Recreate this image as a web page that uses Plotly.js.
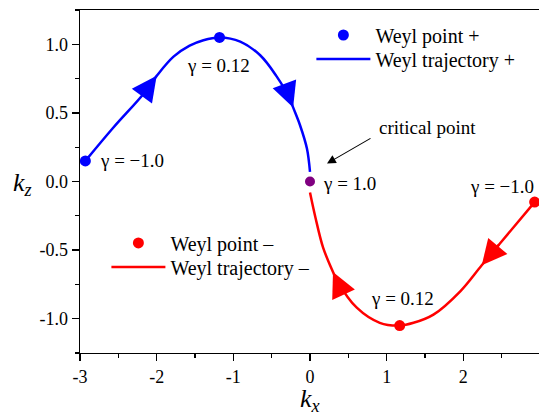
<!DOCTYPE html>
<html><head><meta charset="utf-8">
<script src="https://cdn.plot.ly/plotly-3.0.1.min.js"></script>
<style>html,body{margin:0;padding:0;overflow:hidden;background:#fff}</style>
</head><body><div id="chart" style="width:541px;height:414px"></div>
<script>
// Weyl trajectory + (blue)
const plusTrajKx = [-2.93, -2.57, -2.17, -2.00, -1.78, -1.57, -1.39, -1.18, -0.91, -0.65, -0.44, -0.26, -0.22, -0.13, -0.04, 0.00];
const plusTrajKz = [0.15, 0.39, 0.64, 0.77, 0.91, 0.99, 1.03, 1.05, 1.02, 0.92, 0.77, 0.60, 0.54, 0.41, 0.24, 0.07];
// Weyl trajectory - (red)
const minusTrajKx = [2.93, 2.48, 2.24, 1.96, 1.61, 1.35, 1.17, 0.91, 0.61, 0.35, 0.30, 0.17, 0.07, 0.00];
const minusTrajKz = [-0.15, -0.45, -0.61, -0.80, -0.97, -1.03, -1.05, -1.03, -0.92, -0.72, -0.66, -0.48, -0.26, -0.08];
// Weyl points
const plusPointKx = [-2.93, -1.18];
const plusPointKz = [0.15, 1.05];
const minusPointKx = [2.93, 1.17];
const minusPointKz = [-0.15, -1.05];
const plusPointGamma = ["γ = −1.0", "γ = 0.12"];
const minusPointGamma = ["γ = −1.0", "γ = 0.12"];
// critical point
const critKx = [0.0];
const critKz = [0.0];
const critGamma = ["γ = 1.0"];
// direction arrows: index of arrow tip in the trajectory arrays
const plusArrowIdx = [3, 12];
const minusArrowIdx = [2, 10];
// ticks
const xTickVals = [-3, -2, -1, 0, 1, 2, 3];
const xTickText = ["-3", "-2", "-1", "0", "1", "2", "3"];
const yTickVals = [-1.0, -0.5, 0.0, 0.5, 1.0];
const yTickText = ["-1.0", "-0.5", "0.0", "0.5", "1.0"];
const xTitle = "<i>k</i><sub><i>x</i></sub>";
const yTitle = "<i>k</i><sub><i>z</i></sub>";

const SERIF = '"Liberation Serif", "Times New Roman", serif';
const BLUE = "#0000ff", RED = "#ff0000", PURPLE = "#800080";

const traces = [
  {x: plusTrajKx, y: plusTrajKz, mode: "lines", line: {color: BLUE, width: 2.5, shape: "spline"},
   name: "Weyl trajectory +", legend: "legend2"},
  {x: minusTrajKx, y: minusTrajKz, mode: "lines", line: {color: RED, width: 2.5, shape: "spline"},
   name: "Weyl trajectory –", legend: "legend4"},
  {x: plusPointKx, y: plusPointKz, mode: "markers", marker: {color: BLUE, size: 11},
   name: "Weyl point +", legend: "legend"},
  {x: minusPointKx, y: minusPointKz, mode: "markers", marker: {color: RED, size: 11},
   name: "Weyl point –", legend: "legend3"},
  {x: critKx, y: critKz, mode: "markers", marker: {color: PURPLE, size: 10}, showlegend: false}
];

const annotations = [];
function arrowAnn(xs, ys, i, color) {
  annotations.push({x: xs[i], y: ys[i], ax: xs[i-1], ay: ys[i-1], xref: "x", yref: "y", axref: "x", ayref: "y",
    text: "", showarrow: true, arrowhead: 2, arrowsize: 2.0, arrowwidth: 2.5, arrowcolor: color, standoff: 0, startstandoff: 0});
}
plusArrowIdx.forEach(i => arrowAnn(plusTrajKx, plusTrajKz, i, BLUE));
minusArrowIdx.forEach(i => arrowAnn(minusTrajKx, minusTrajKz, i, RED));

function label(x, y, text, xanchor, xshift, yshift) {
  annotations.push({x: x, y: y, xref: "x", yref: "y", text: text, showarrow: false, xanchor: xanchor, yanchor: "middle",
    xshift: xshift, yshift: yshift, font: {family: SERIF, size: 19, color: "#000"}});
}
label(plusPointKx[0], plusPointKz[0], plusPointGamma[0], "left", 13, 0);
label(plusPointKx[1], plusPointKz[1], plusPointGamma[1], "center", -1, -28);
label(minusPointKx[0], minusPointKz[0], minusPointGamma[0], "right", 1, 16);
label(minusPointKx[1], minusPointKz[1], minusPointGamma[1], "center", 3, 27);
label(critKx[0], critKz[0], critGamma[0], "left", 11, -2);
label(critKx[0], critKz[0], "critical point", "left", 67, 54);
// arrow pointing to the critical point
annotations.push({x: critKx[0], y: critKz[0], xref: "x", yref: "y", text: "", showarrow: true,
  ax: 45, ay: -26, xshift: 17, yshift: 18, arrowhead: 2, arrowsize: 1.6, arrowwidth: 1.1, arrowcolor: "#000", standoff: 0});
// axis titles (k_z horizontal, as in the reference)
annotations.push({x: -0.124, y: 0, xref: "paper", yref: "y", text: yTitle, showarrow: false,
  xanchor: "center", yanchor: "middle", yshift: -2, font: {family: SERIF, size: 26, color: "#000"}});
annotations.push({x: 0.5, y: 0, xref: "paper", yref: "paper", text: xTitle, showarrow: false,
  xanchor: "center", yanchor: "top", yshift: -29, font: {family: SERIF, size: 26, color: "#000"}});

const axisCommon = {showgrid: false, zeroline: false, showline: true, mirror: true, linecolor: "#000", linewidth: 1.3,
  ticks: "outside", ticklen: 7, tickwidth: 1.3, tickcolor: "#000", tickmode: "array",
  tickfont: {family: SERIF, size: 18, color: "#000"}};

function legendAt(x, y) {
  return {x: x, y: y, xanchor: "left", yanchor: "top", bgcolor: "rgba(0,0,0,0)", itemwidth: 54,
    font: {family: SERIF, size: 20, color: "#000"}, tracegroupgap: 0};
}

const layout = {
  width: 541, height: 414,
  margin: {l: 80, r: 1, t: 10, b: 61},
  paper_bgcolor: "#fff", plot_bgcolor: "#fff",
  font: {family: SERIF, color: "#000"},
  xaxis: Object.assign({}, axisCommon, {range: [-3, 3], tickvals: xTickVals, ticktext: xTickText,
    minor: {tickmode: "linear", tick0: 0, dtick: 0.5, ticks: "outside", ticklen: 4, tickwidth: 1.3, tickcolor: "#000", showgrid: false}}),
  yaxis: Object.assign({}, axisCommon, {range: [-1.25, 1.25], tickvals: yTickVals, ticktext: yTickText,
    minor: {tickmode: "linear", tick0: 0, dtick: 0.25, ticks: "outside", ticklen: 4, tickwidth: 1.3, tickcolor: "#000", showgrid: false}}),
  legend: legendAt(0.503, 0.984),
  legend2: legendAt(0.503, 0.914),
  legend3: legendAt(0.0574, 0.3776),
  legend4: legendAt(0.0574, 0.3076),
  annotations: annotations,
  showlegend: true
};

Plotly.newPlot("chart", traces, layout, {displayModeBar: false, staticPlot: true});
</script>
</body></html>
